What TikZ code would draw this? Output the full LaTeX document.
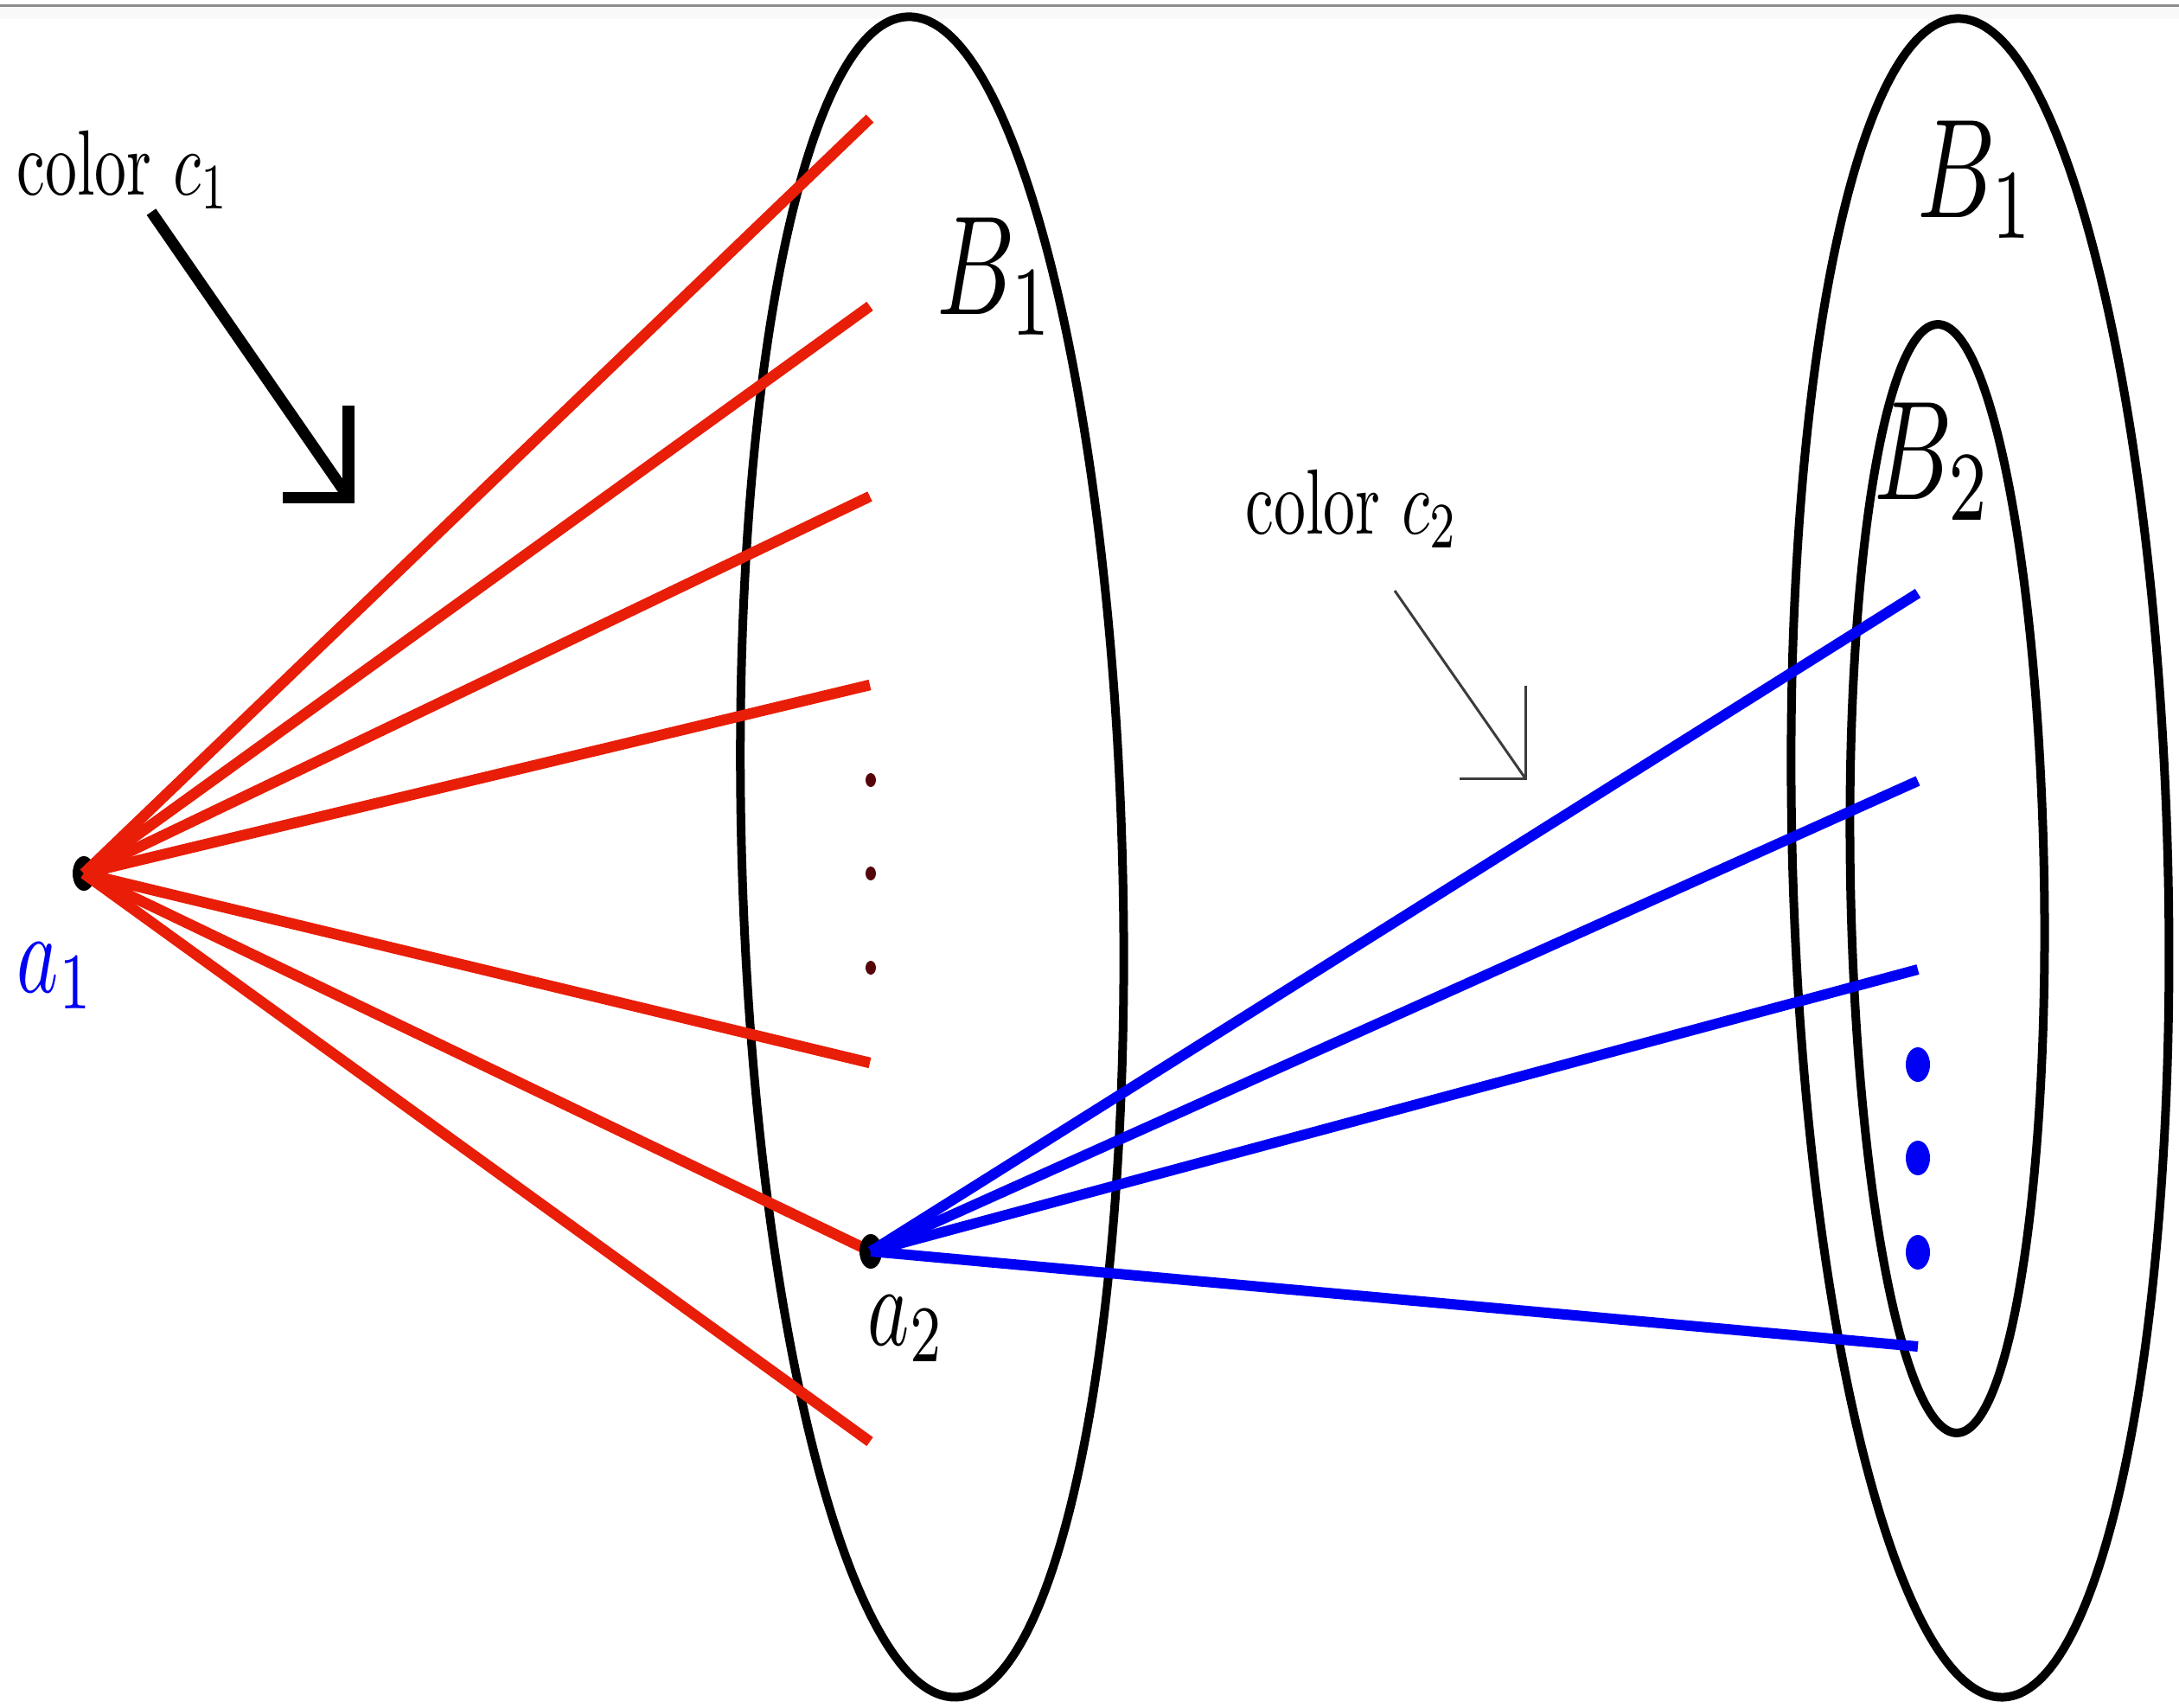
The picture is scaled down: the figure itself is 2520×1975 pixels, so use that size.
\documentclass[tikz,border=0pt]{standalone}
\usepackage{graphicx}
\definecolor{lred}{RGB}{232,30,8}
\definecolor{lblue}{RGB}{0,0,245}
\definecolor{dred}{RGB}{85,5,10}
\definecolor{dgray}{RGB}{60,60,60}
\definecolor{topgray}{RGB}{140,140,140}
% text set at 10pt and scaled: horizontal factor #1, vertical factor #1*1.45
\newcommand{\vstretch}[2]{\scalebox{#1}[\fpeval{#1*1.45}]{#2}}
\tikzset{
  ell/.style={draw=black, line width=0.1cm},
  redln/.style={draw=lred, line width=0.125cm},
  blueln/.style={draw=lblue, line width=0.12cm},
  lbl/.style={inner sep=0pt, anchor=base west, font=\fontsize{10}{12}\selectfont},
  thickarrow/.style={draw=black, line width=0.13cm, line join=miter},
  thinarrow/.style={draw=dgray, line width=0.03cm, line join=miter},
}
\begin{document}
\begin{tikzpicture}[x=0.01cm,y=-0.01cm]
\useasboundingbox (0,0) rectangle (2520,1975);
% top border of the screenshot
\fill[gray!5] (0,7) rectangle (2520,22);
\draw[topgray, line width=0.03cm] (0,6) -- (2520,6);

% sets
\coordinate (E1c) at (1078,991);
\coordinate (E2c) at (2290,992);
\coordinate (E3c) at (2252,1016);
\draw[ell, rotate around={1.65:(E1c)}] (E1c) ellipse [x radius=220, y radius=972];
\draw[ell, rotate around={1.56:(E2c)}] (E2c) ellipse [x radius=217, y radius=971];
\draw[ell, rotate around={1.0:(E3c)}] (E3c) ellipse [x radius=112, y radius=641];

% points
\coordinate (a1) at (97,1010);
\coordinate (a2) at (1007,1447);

% red end points
\coordinate (r1) at (1006,137);
\coordinate (r2) at (1006,354);
\coordinate (r3) at (1006,574);
\coordinate (r4) at (1006,792);
\coordinate (r5) at (1006,1229);
\coordinate (r6) at (1006,1667);

% blue end points
\coordinate (b1) at (2218,686);
\coordinate (b2) at (2218,903);
\coordinate (b3) at (2218,1121);
\coordinate (b4) at (2218,1557);

\fill[black] (a1) ellipse [x radius=13, y radius=20];
\foreach \e in {r1,r2,r3,r4,r5,r6} \draw[redln] (a1) -- (\e);
\draw[redln] (a1) -- (a2);
\fill[black] (a2) ellipse [x radius=13, y radius=20];
\foreach \e in {b1,b2,b3,b4} \draw[blueln] (a2) -- (\e);

% dots
\foreach \y in {902,1010,1119} \fill[dred] (1007,\y) ellipse [x radius=6, y radius=8];
\foreach \y in {1231,1339,1448} \fill[lblue] (2218,\y) ellipse [x radius=14, y radius=20];

% labels
\node[lbl] (c1lab) at (19,225) {\vstretch{2.1}{color $c_1$}};
\node[lbl] (c2lab) at (1440,617) {\vstretch{2.1}{color $c_2$}};
\node[lbl] (B1m) at (1083,363) {\vstretch{3.2}{$B_1$}};
\node[lbl] (B1r) at (2217,251) {\vstretch{3.2}{$B_1$}};
\node[lbl] (B2r) at (2167,577) {\vstretch{3.2}{$B_2$}};
\node[lbl, text=lblue] (a1lab) at (19,1147) {\vstretch{2.6}{$a_1$}};
\node[lbl] (a2lab) at (1003,1555) {\vstretch{2.6}{$a_2$}};

% pointer arrows
\coordinate (c1tail) at (175,245);
\coordinate (c1tip) at (403,575);
\draw[thickarrow] (c1tail) -- (c1tip);
\draw[thickarrow] (c1tip) ++(-76,0) -- (c1tip) -- ++(0,-106);

\coordinate (c2tail) at (1613,683);
\coordinate (c2tip) at (1764,900);
\draw[thinarrow] (c2tail) -- (c2tip);
\draw[thinarrow] (c2tip) ++(-76,0) -- (c2tip) -- ++(0,-107);
\end{tikzpicture}
\end{document}
